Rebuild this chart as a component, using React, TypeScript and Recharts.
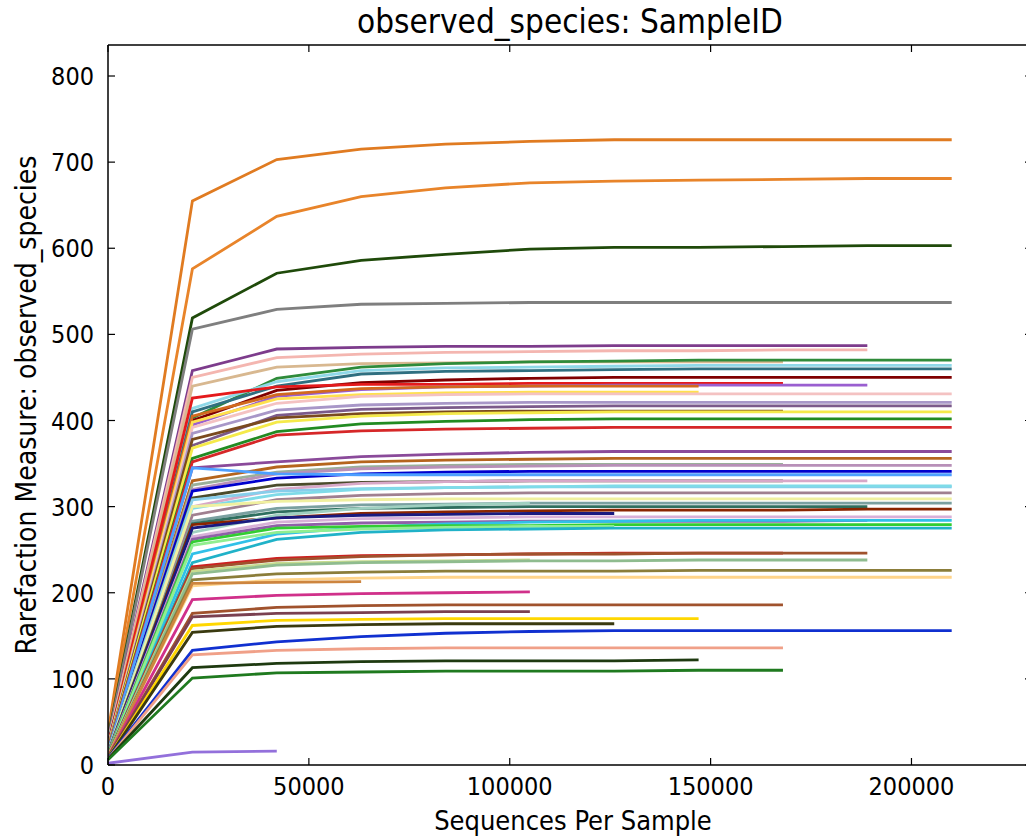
import { LineChart, Line, XAxis, YAxis } from 'recharts';

const TITLE = 'observed_species: SampleID';
const X_LABEL = 'Sequences Per Sample';
const Y_LABEL = 'Rarefaction Measure: observed_species';

const DEPTHS = [10, 21010, 42010, 63010, 84010, 105010, 126010, 147010, 168010, 189010, 210010];
const X_TICKS = [0, 50000, 100000, 150000, 200000];
const Y_TICKS = [0, 100, 200, 300, 400, 500, 600, 700, 800];

// one colour per sample, same order as OBSERVED
const COLORS = [
  '#e07b21', '#e8842a', '#1f4a0a', '#7f7f7f', '#7d3c8c', '#f4b6b0', '#d8b890', '#2e8b3a',
  '#8fd8e8', '#2f6f80', '#800000', '#e41a1c', '#9a5fd0', '#d2691e', '#ffe04d', '#f4c2c2',
  '#a897c8', '#7b5a8a', '#7a4a1e', '#f5ea4a', '#228b22', '#d62728',
  '#8a4a9a', '#b5651d', '#9ab09a', '#b890b8', '#0000cd', '#4d9fff', '#4b4b2b', '#d8a8c8',
  '#87ceeb', '#7fdbe8', '#a08090', '#f0f0a0', '#7aa0a0', '#2f6f5f', '#8b2500', '#9fd0c0',
  '#1a1a80', '#d8b0d8', '#9060a8', '#30c0e8', '#32cd32', '#90ee90', '#20b2c8',
  '#cc2020', '#a0522d', '#c8dc90', '#8fbc8f', '#8b7d3a', '#ffd48a', '#cd853f', '#d0308a',
  '#a0522d', '#7a4050', '#ffd700', '#3a3a10', '#1030d0', '#f0a088', '#1e3a10', '#1f7a1f',
  '#9370db',
];

// observed species per depth; a short row means that sample ran out of sequences
const OBSERVED = [
  [38, 655, 703, 715, 721, 724, 726, 726, 726, 726, 726],
  [35, 576, 637, 660, 670, 676, 678, 679, 680, 681, 681],
  [32, 519, 571, 586, 593, 599, 601, 601, 602, 603, 603],
  [30, 506, 529, 535, 536, 537, 537, 537, 537, 537, 537],
  [28, 458, 483, 485, 486, 486, 487, 487, 487, 487],
  [27, 450, 473, 477, 479, 480, 481, 481, 482, 482],
  [26, 440, 462, 466, 467, 468, 468, 468, 468],
  [25, 403, 449, 462, 466, 468, 469, 470, 470, 470, 470],
  [25, 414, 445, 458, 461, 462, 463, 464, 464, 464, 464],
  [24, 410, 440, 454, 457, 458, 459, 460, 460, 460, 460],
  [24, 400, 435, 444, 447, 449, 450, 450, 450, 450, 450],
  [23, 426, 439, 442, 442, 443, 443, 443, 443],
  [22, 395, 428, 436, 439, 440, 441, 441, 441, 441],
  [22, 405, 430, 437, 439, 440, 440, 440],
  [21, 398, 425, 430, 432, 433, 433, 433],
  [21, 392, 420, 428, 430, 431, 431, 431, 431, 431, 431],
  [20, 385, 412, 418, 420, 421, 421, 421, 421, 421, 421],
  [20, 371, 406, 413, 415, 416, 417, 417, 417, 417, 417],
  [19, 378, 403, 408, 410, 411, 411, 411, 411],
  [19, 368, 398, 405, 408, 409, 410, 410, 410, 410, 410],
  [18, 356, 387, 396, 399, 401, 402, 402, 402, 402, 402],
  [18, 352, 383, 388, 390, 391, 392, 392, 392, 392, 392],
  [17, 345, 352, 358, 361, 363, 364, 364, 364, 364, 364],
  [17, 330, 346, 352, 354, 355, 356, 356, 356, 356, 356],
  [16, 325, 340, 346, 348, 349, 349, 349, 349],
  [16, 320, 338, 344, 346, 347, 348, 348, 348, 348, 348],
  [16, 318, 333, 338, 340, 341, 341, 341, 341, 341, 341],
  [16, 345, 338, 337, 337, 337, 337, 337, 337, 337, 337],
  [15, 310, 325, 328, 329, 330, 330, 330, 330],
  [15, 300, 320, 327, 329, 330, 330, 330, 330, 330],
  [15, 308, 318, 321, 322, 323, 323, 323, 323, 323, 323],
  [15, 298, 314, 320, 322, 323, 324, 324, 324, 324, 324],
  [14, 290, 308, 313, 315, 316, 316, 316, 316, 316, 316],
  [14, 300, 306, 308, 309, 309, 309, 309, 309, 309, 309],
  [14, 283, 298, 302, 303, 304, 304, 304, 304, 304, 304],
  [14, 280, 294, 298, 299, 300, 300, 300, 300, 300],
  [13, 279, 287, 292, 294, 295, 296, 296, 296, 297, 297],
  [13, 270, 290, 298, 302, 304],
  [13, 275, 287, 290, 291, 292, 292],
  [13, 265, 282, 286, 287, 288, 288, 288, 288, 288, 288],
  [12, 262, 278, 281, 282, 283, 283, 283, 283, 284],
  [12, 245, 268, 276, 280, 282, 283, 284, 284, 284, 284],
  [12, 259, 275, 277, 278, 278, 279, 279, 279, 279, 279],
  [11, 255, 270, 274, 276, 277, 277],
  [11, 235, 262, 270, 273, 274, 275, 275, 275, 275, 275],
  [11, 230, 240, 243, 244, 245, 246, 246, 246],
  [11, 228, 238, 242, 244, 245, 245, 246, 246, 246],
  [10, 225, 234, 236, 237, 238],
  [10, 222, 232, 235, 236, 237, 237, 238, 238, 238],
  [10, 215, 222, 224, 225, 225, 225, 226, 226, 226, 226],
  [10, 208, 215, 217, 218, 218, 218, 218, 218, 218, 218],
  [9, 211, 212, 213],
  [9, 192, 197, 199, 200, 201],
  [9, 176, 183, 185, 186, 186, 186, 186, 186],
  [9, 172, 176, 177, 178, 178],
  [8, 162, 168, 169, 170, 170, 170, 170],
  [8, 154, 161, 163, 164, 164, 164],
  [8, 133, 143, 149, 153, 155, 156, 156, 156, 156, 156],
  [7, 128, 133, 135, 136, 136, 136, 136, 136],
  [7, 113, 118, 120, 121, 121, 121, 122],
  [6, 101, 107, 108, 109, 109, 109, 110, 110],
  [2, 15, 16],
];

const rows = DEPTHS.map((depth, j) => {
  const row: Record<string, number> = { depth };
  OBSERVED.forEach((vals, i) => {
    if (j < vals.length) row['s' + i] = vals[j];
  });
  return row;
});

const FONT = '"DejaVu Sans Condensed", "DejaVu Sans", sans-serif';
const TICK_LEN = 7;
const GAP = 14;

// matplotlib-classic style: ticks point into the plot, label sits outside
function BottomTick(props: any) {
  const { x, y, payload } = props;
  const axisY = y - GAP;
  return (
    <g>
      <line x1={x} x2={x} y1={axisY} y2={axisY - TICK_LEN} stroke="#000" strokeWidth={1.2} />
      <text x={x} y={y} dy="0.62em" textAnchor="middle" fontSize={25} fontFamily={FONT} fill="#000">{payload.value}</text>
    </g>
  );
}

function LeftTick(props: any) {
  const { x, y, payload } = props;
  const axisX = x + GAP;
  return (
    <g>
      <line x1={axisX} x2={axisX + TICK_LEN} y1={y} y2={y} stroke="#000" strokeWidth={1.2} />
      <text x={x} y={y} dy="0.36em" textAnchor="end" fontSize={25} fontFamily={FONT} fill="#000">{payload.value}</text>
    </g>
  );
}

function TopTick(props: any) {
  const { x, y } = props;
  return <line x1={x} x2={x} y1={y} y2={y + TICK_LEN} stroke="#000" strokeWidth={1.2} />;
}

function RightTick(props: any) {
  const { x, y } = props;
  return <line x1={x} x2={x - TICK_LEN} y1={y} y2={y} stroke="#000" strokeWidth={1.2} />;
}

const axisLine = { stroke: '#000', strokeWidth: 1.5 };

export default function App() {
  return (
    <div style={{ position: 'absolute', left: 0, top: 0, width: 1026, height: 836, overflow: 'hidden', background: '#fff' }}>
      <div style={{ position: 'absolute', left: 0, width: 1140, top: 2, textAlign: 'center', fontFamily: FONT, fontSize: 33, color: '#000' }}>
        {TITLE}
      </div>
      <div style={{ position: 'absolute', left: 0, width: 1146, top: 805, textAlign: 'center', fontFamily: FONT, fontSize: 27, color: '#000' }}>
        {X_LABEL}
      </div>
      <div
        style={{
          position: 'absolute', left: 26, top: 405, width: 700, marginLeft: -350, textAlign: 'center',
          transform: 'translateY(-50%) rotate(-90deg)', fontFamily: FONT, fontSize: 28, color: '#000',
        }}
      >
        {Y_LABEL}
      </div>
      <LineChart width={1033} height={836} data={rows} margin={{ top: 44, right: 0, bottom: 0, left: 0 }}>
        <XAxis
          xAxisId="b" dataKey="depth" type="number" domain={[0, 230000]} ticks={X_TICKS} allowDataOverflow
          height={71} tickSize={0} tickMargin={GAP} tick={<BottomTick />} tickLine={false} axisLine={axisLine}
        />
        <XAxis
          xAxisId="t" orientation="top" dataKey="depth" type="number" domain={[0, 230000]} ticks={X_TICKS}
          allowDataOverflow height={1} tickSize={0} tickMargin={0} tick={<TopTick />} tickLine={false} axisLine={axisLine}
        />
        <YAxis
          yAxisId="l" type="number" domain={[0, 836]} ticks={Y_TICKS} allowDataOverflow
          width={108} tickSize={0} tickMargin={GAP} tick={<LeftTick />} tickLine={false} axisLine={axisLine}
        />
        <YAxis
          yAxisId="r" orientation="right" type="number" domain={[0, 836]} ticks={Y_TICKS} allowDataOverflow
          width={1} tickSize={0} tickMargin={0} tick={<RightTick />} tickLine={false} axisLine={axisLine}
        />
        {OBSERVED.map((_, i) => (
          <Line
            key={i}
            xAxisId="b"
            yAxisId="l"
            dataKey={'s' + i}
            stroke={COLORS[i]}
            strokeWidth={2.8}
            dot={false}
            activeDot={false}
            isAnimationActive={false}
            connectNulls={false}
          />
        ))}
      </LineChart>
    </div>
  );
}
